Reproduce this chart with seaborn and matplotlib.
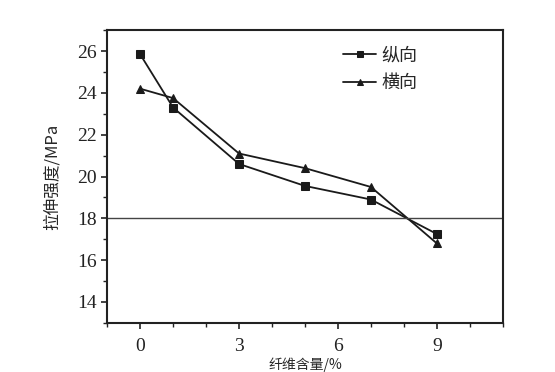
import matplotlib
matplotlib.use('Agg')
import matplotlib.pyplot as plt
import seaborn as sns
import pandas as pd
from matplotlib.ticker import MultipleLocator

# data
content = [0, 1, 3, 5, 7, 9]
zongxiang = [25.85, 23.3, 20.6, 19.55, 18.9, 17.25]
hengxiang = [24.2, 23.75, 21.1, 20.4, 19.5, 16.8]
series_names = ['纵向', '横向']

df = pd.DataFrame({
    'x': content * 2,
    'y': zongxiang + hengxiang,
    '方向': [series_names[0]] * len(content) + [series_names[1]] * len(content),
})

sns.set_style('ticks')
plt.rcParams['font.family'] = ['Liberation Serif', 'Noto Sans CJK SC']

fig, ax = plt.subplots(figsize=(5.55, 3.72), dpi=100)
fig.subplots_adjust(left=0.193, right=0.906, top=0.919, bottom=0.132)

sns.lineplot(data=df, x='x', y='y', hue='方向', style='方向',
             palette=['#1a1a1a', '#1a1a1a'], dashes=False,
             markers=['s', '^'], markersize=6, linewidth=1.3,
             markeredgecolor='#1a1a1a', ax=ax)

ax.axhline(18, color='#444444', linewidth=1.0)

ax.set_xlim(-1, 11)
ax.set_ylim(13, 27)
ax.xaxis.set_major_locator(MultipleLocator(3))
ax.xaxis.set_minor_locator(MultipleLocator(1))
ax.yaxis.set_major_locator(MultipleLocator(2))
ax.yaxis.set_minor_locator(MultipleLocator(1))
ax.set_xticks([0, 3, 6, 9])
ax.set_yticks([14, 16, 18, 20, 22, 24, 26])
ax.tick_params(axis='both', which='major', length=4, width=1.2, labelsize=14, colors='#222222')
ax.tick_params(axis='both', which='minor', length=3, width=1.0, colors='#222222')
ax.tick_params(axis='x', pad=7)

for s in ax.spines.values():
    s.set_linewidth(1.5)
    s.set_color('#222222')

ax.set_xlabel('纤维含量/%', fontsize=10, labelpad=2,
              family=['Noto Sans CJK SC', 'Liberation Serif'])
ax.set_ylabel('拉伸强度/MPa', fontsize=12, labelpad=12,
              family=['Noto Sans CJK SC', 'Liberation Serif'])

leg = ax.legend(loc='upper right', bbox_to_anchor=(0.825, 1.0), frameon=False,
                handlelength=1.8, handletextpad=0.3, markerscale=0.8,
                labelspacing=0.55, prop={'family': ['Noto Sans CJK SC'], 'size': 13})

fig.savefig('out.png', dpi=100)
